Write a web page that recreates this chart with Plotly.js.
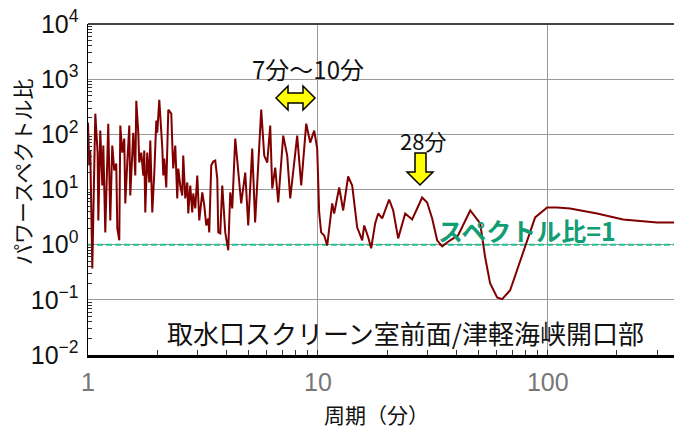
<!DOCTYPE html>
<html><head><meta charset="utf-8">
<script src="https://cdn.plot.ly/plotly-3.0.1.min.js"></script>
<style>html,body{margin:0;padding:0;background:#fff;overflow:hidden}</style>
</head><body>
<div id="chart" style="width:674px;height:430px"></div>
<script>
// Period (minutes)
const period = [1.0,1.013,1.023,1.044,1.076,1.101,1.109,1.131,1.154,1.166,1.189,1.213,1.225,1.25,1.275,1.301,1.327,1.341,1.368,1.382,1.41,1.438,1.453,1.482,1.512,1.527,1.558,1.574,1.606,1.622,1.655,1.671,1.705,1.74,1.757,1.775,1.81,1.847,1.866,1.904,1.943,1.982,2.001,2.042,2.104,2.126,2.147,2.19,2.235,2.303,2.326,2.349,2.397,2.445,2.47,2.519,2.57,2.596,2.649,2.703,2.73,2.785,2.841,2.87,2.928,2.988,3.048,3.141,3.205,3.268,3.334,3.368,3.436,3.506,3.577,3.65,3.687,3.761,3.837,3.954,4.074,4.156,4.24,4.37,4.639,4.83,4.977,5.18,5.333,5.669,5.842,6.021,6.204,6.329,6.522,6.721,7.065,7.355,7.58,8.128,8.462,8.896,9.259,9.636,9.931,10.13,10.33,10.65,10.98,11.54,11.77,12.38,12.88,13.54,14.1,14.82,15.59,15.9,16.55,17.05,17.75,18.29,19.04,20.42,21.26,22.35,23.97,25.7,27.03,28.41,29.87,31.41,33.02,34.71,37.6,40.7,46.0,50.8,53.4,56.1,60.2,63.3,68.6,73.5,79.7,88.1,99.3,109.7,125,163.8,212.6,298.7,354];
// Power spectrum ratio
const ratio = [163,27.2,50.7,0.37,237,46.7,2.75,117,11.8,62.5,1.67,83.6,156,2.75,62.5,22.1,29.5,1.97,1.2,144,46.7,83.6,5.58,30.8,144,7.79,46.7,107,17.9,407,107,30.8,46.7,17.9,50.7,3.84,46.7,13.4,76.9,3.84,20.3,177,107,424,57.5,17.9,36.4,10.9,280,237,67.9,24.0,62.5,6.88,24.0,11.8,7.79,41.2,6.88,13.4,3.68,11.8,3.84,8.47,4.53,17.9,2.75,8.83,5.14,2.23,2.99,1.67,27.2,32.1,33.5,15.8,1.67,1.6,11.8,1.67,0.79,8.83,4.53,83.6,5.58,20.3,2.23,55.1,2.53,280,41.2,30.8,144,10.4,25.0,5.82,94.8,41.2,6.88,94.8,11.8,156,70.8,117,55.1,3.84,1.67,1.47,0.97,5.58,3.68,10.9,4.17,17.2,11.8,2.06,1.2,2.23,1.36,0.86,2.43,3.68,2.99,6.59,4.17,1.3,3.68,2.87,4.53,7.17,5.82,2.99,1.2,0.93,1.2,1.47,4.17,2.43,0.59,0.2,0.111,0.103,0.149,0.343,0.89,3.12,4.73,4.73,4.53,3.68,2.87,2.53,2.53];
const refLevel = [1, 1];

const xTickVals = [1, 10, 100];
const xTickText = ['1', '10', '100'];
const yTickVals = [0.01, 0.1, 1, 10, 100, 1000, 10000];
const yTickText = ['10<sup>−2</sup>','10<sup>−1</sup>','10<sup>0</sup>','10<sup>1</sup>','10<sup>2</sup>','10<sup>3</sup>','10<sup>4</sup>'];

const xMinor = [];
[1, 10, 100].forEach(d => { for (let k = 2; k <= 9; k++) xMinor.push(d * k); });
const yMinor = [];
[0.01, 0.1, 1, 10, 100, 1000].forEach(d => { for (let k = 2; k <= 9; k++) yMinor.push(d * k); });

// pixel -> paper helpers for decorative annotations
const L = 88, R = 0, T = 24, B = 75, W = 674, H = 430;
const pw = W - L - R, ph = H - T - B;
const px = x => (x - L) / pw;
const py = y => (H - B - y) / ph;
function pathOf(pts) {
  return 'M' + pts.map(p => px(p[0]).toFixed(5) + ',' + py(p[1]).toFixed(5)).join(' L') + ' Z';
}
const dblArrow = [[276,98],[288,86],[288,93],[303,93],[303,86],[315,98],[303,110],[303,103],[288,103],[288,110]];
const downArrow = [[415,153],[426,153],[426,172],[433,172],[420,185],[407,172],[415,172]];

const jp = '"Noto Sans CJK JP", "Noto Sans", sans-serif';
const num = '"Liberation Sans Narrow", "Liberation Sans", Arial, sans-serif';

const traces = [
  { x: [period[0], period[period.length - 1]], y: refLevel, mode: 'lines', type: 'scatter',
    line: { color: '#22c093', width: 2, dash: '6px,3px' }, hoverinfo: 'skip' },
  { x: period, y: ratio, mode: 'lines', type: 'scatter',
    line: { color: '#800000', width: 2 } }
];

const layout = {
  width: W, height: H,
  margin: { l: L, r: R, t: T, b: B },
  paper_bgcolor: '#fff', plot_bgcolor: '#fff',
  showlegend: false,
  xaxis: {
    type: 'log', range: [0, Math.log10(354)],
    tickmode: 'array', tickvals: xTickVals, ticktext: xTickText,
    ticks: 'inside', ticklen: 5, tickcolor: '#333',
    tickfont: { family: num, size: 25, color: '#777' },
    ticklabelstandoff: 3,
    showgrid: true, gridcolor: '#999', gridwidth: 1,
    showline: true, linecolor: '#000', linewidth: 3,
    minor: { tickmode: 'array', tickvals: xMinor, ticks: 'inside', ticklen: 5, tickcolor: '#333', showgrid: false },
    zeroline: false, fixedrange: true
  },
  yaxis: {
    type: 'log', range: [-2, 4],
    tickmode: 'array', tickvals: yTickVals, ticktext: yTickText,
    ticks: '',
    tickfont: { family: num, size: 25, color: '#111' },
    ticklabelstandoff: 3,
    showgrid: true, gridcolor: '#999', gridwidth: 1,
    showline: true, linecolor: '#000', linewidth: 1.5,
    minor: { tickmode: 'array', tickvals: yMinor, ticks: 'inside', ticklen: 4, tickcolor: '#333', showgrid: false },
    zeroline: false, fixedrange: true
  },
  shapes: [
    { type: 'line', xref: 'paper', yref: 'paper', x0: 0, x1: 1, y0: 1, y1: 1, line: { color: '#444', width: 2 } },
    { type: 'path', xref: 'paper', yref: 'paper', path: pathOf(dblArrow), fillcolor: '#ffff00', line: { color: '#000', width: 1.5 } },
    { type: 'path', xref: 'paper', yref: 'paper', path: pathOf(downArrow), fillcolor: '#ffff00', line: { color: '#000', width: 1.5 } }
  ],
  annotations: [
    { text: 'パワースペクトル比', xref: 'paper', yref: 'paper', x: px(22), y: py(172), textangle: -90,
      showarrow: false, xanchor: 'center', yanchor: 'middle', font: { family: jp, size: 21, color: '#111' } },
    { text: '周期（分）', xref: 'paper', yref: 'paper', x: px(376), y: py(414),
      showarrow: false, xanchor: 'center', yanchor: 'middle', font: { family: jp, size: 21, color: '#111' } },
    { text: '7分～10分', xref: 'paper', yref: 'paper', x: px(308), y: py(68),
      showarrow: false, xanchor: 'center', yanchor: 'middle', font: { family: jp, size: 24, color: '#111' } },
    { text: '28分', xref: 'paper', yref: 'paper', x: px(423), y: py(140),
      showarrow: false, xanchor: 'center', yanchor: 'middle', font: { family: jp, size: 22, color: '#111' } },
    { text: '<b>スペクトル比=1</b>', xref: 'paper', yref: 'paper', x: px(527), y: py(230),
      showarrow: false, xanchor: 'center', yanchor: 'middle', font: { family: jp, size: 25, color: '#129e74' } },
    { text: '取水口スクリーン室前面/津軽海峡開口部', xref: 'paper', yref: 'paper', x: px(405), y: py(332),
      showarrow: false, xanchor: 'center', yanchor: 'middle', font: { family: jp, size: 26, color: '#111' } }
  ]
};

Plotly.newPlot('chart', traces, layout, { displayModeBar: false, staticPlot: true });
</script>
</body></html>
